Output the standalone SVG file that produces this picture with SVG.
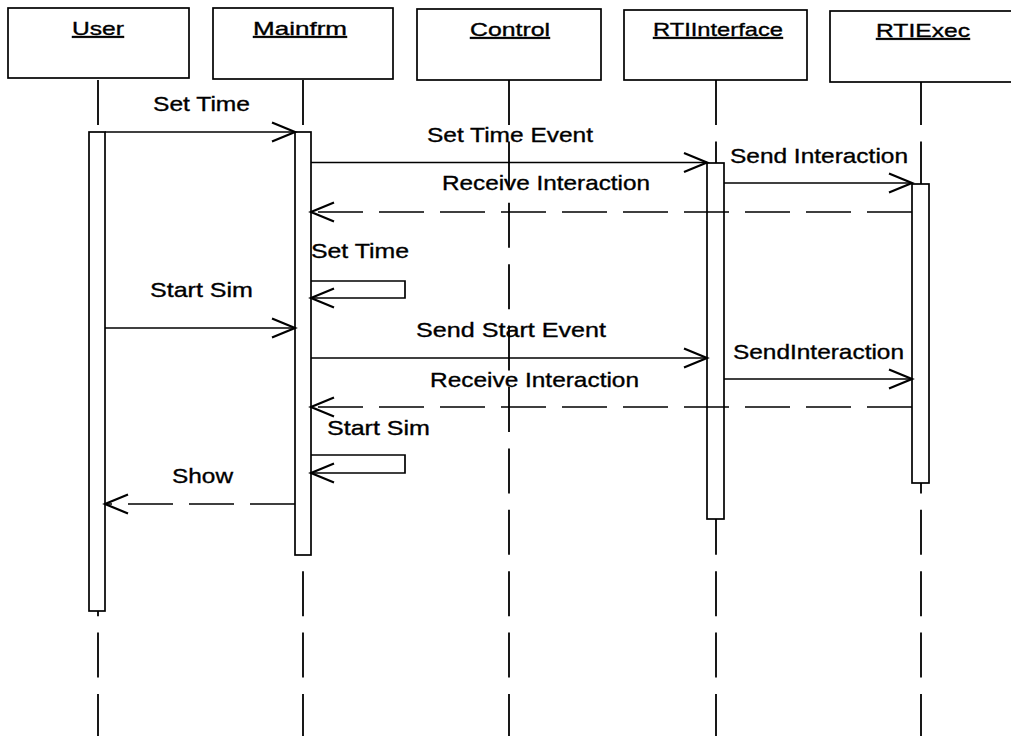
<svg xmlns="http://www.w3.org/2000/svg" width="1011" height="736" viewBox="0 0 1011 736">
<style>
  .box { fill: #fff; stroke: #000; stroke-width: 1.7; }
  .act { fill: #fff; stroke: #000; stroke-width: 1.7; }
  .life { stroke: #000; stroke-width: 1.8; stroke-dasharray: 45 16.4; fill: none; }
  .msg { stroke: #000; stroke-width: 1.7; fill: none; marker-end: url(#open); }
  .ret { stroke: #000; stroke-width: 1.7; fill: none; stroke-dasharray: 45 16; marker-end: url(#open); }
  .hdr { font-family: "Liberation Sans", Arial, sans-serif; font-size: 19px; text-decoration: underline; fill: #000; stroke: #000; stroke-width: 0.35; }
  .lbl { font-family: "Liberation Sans", Arial, sans-serif; font-size: 21px; fill: #000; stroke: #000; stroke-width: 0.35; }
</style>
<defs>
  <marker id="open" markerUnits="userSpaceOnUse" markerWidth="30" markerHeight="24" viewBox="-26 -12 30 24" refX="0" refY="0" orient="auto">
    <path d="M-23,-9.5 L0,0 L-23,9.5" fill="none" stroke="#000" stroke-width="2.2"/>
  </marker>
</defs>
<rect width="1011" height="736" fill="#fff"/>

<g id="lifelines">
  <line class="life" x1="98" y1="80" x2="98" y2="736"/>
  <line class="life" x1="303" y1="80" x2="303" y2="736"/>
  <line class="life" x1="509" y1="80" x2="509" y2="736"/>
  <line class="life" x1="716" y1="80" x2="716" y2="736"/>
  <line class="life" x1="921" y1="80" x2="921" y2="736"/>
</g>

<g id="node-user">
  <rect class="box" x="8" y="8" width="181" height="70"/>
  <text class="hdr" x="72" y="35" textLength="52" lengthAdjust="spacingAndGlyphs">User</text>
  <rect class="act" x="89" y="132" width="16" height="479"/>
</g>
<g id="node-mainfrm">
  <rect class="box" x="213" y="8" width="180" height="71"/>
  <text class="hdr" x="253" y="35" textLength="94" lengthAdjust="spacingAndGlyphs">Mainfrm</text>
  <rect class="act" x="295" y="132" width="16" height="423"/>
</g>
<g id="node-control">
  <rect class="box" x="417" y="9" width="184" height="71"/>
  <text class="hdr" x="470" y="36" textLength="80" lengthAdjust="spacingAndGlyphs">Control</text>
</g>
<g id="node-rtiinterface">
  <rect class="box" x="624" y="10" width="183" height="70"/>
  <text class="hdr" x="653" y="36" textLength="130" lengthAdjust="spacingAndGlyphs">RTIInterface</text>
  <rect class="act" x="707" y="163" width="17" height="356"/>
</g>
<g id="node-rtiexec">
  <rect class="box" x="830" y="11" width="185" height="71"/>
  <text class="hdr" x="876" y="37" textLength="94" lengthAdjust="spacingAndGlyphs">RTIExec</text>
  <rect class="act" x="912" y="184" width="17" height="299"/>
</g>

<g id="connectors">
  <line class="msg" x1="105" y1="132" x2="295" y2="132"/>
  <line class="msg" x1="311" y1="162.5" x2="707" y2="162.5"/>
  <line class="msg" x1="724" y1="183" x2="912" y2="183"/>
  <line class="ret" x1="912" y1="212" x2="311" y2="212"/>
  <polyline class="msg" points="311,281 405,281 405,298 311,298"/>
  <line class="msg" x1="105" y1="328" x2="295" y2="328"/>
  <line class="msg" x1="311" y1="358" x2="707" y2="358"/>
  <line class="msg" x1="724" y1="379" x2="912" y2="379"/>
  <line class="ret" x1="912" y1="407" x2="311" y2="407"/>
  <polyline class="msg" points="311,455 405,455 405,473 311,473"/>
  <line class="ret" x1="295" y1="504" x2="105" y2="504"/>
</g>

<g id="labels">
  <text class="lbl" x="153" y="111" textLength="97" lengthAdjust="spacingAndGlyphs">Set Time</text>
  <text class="lbl" x="427" y="142" textLength="166" lengthAdjust="spacingAndGlyphs">Set Time Event</text>
  <text class="lbl" x="730" y="163" textLength="178" lengthAdjust="spacingAndGlyphs">Send Interaction</text>
  <text class="lbl" x="442" y="190" textLength="208" lengthAdjust="spacingAndGlyphs">Receive Interaction</text>
  <text class="lbl" x="311" y="258" textLength="98" lengthAdjust="spacingAndGlyphs">Set Time</text>
  <text class="lbl" x="150" y="297" textLength="103" lengthAdjust="spacingAndGlyphs">Start Sim</text>
  <text class="lbl" x="416" y="337" textLength="190" lengthAdjust="spacingAndGlyphs">Send Start Event</text>
  <text class="lbl" x="733" y="359" textLength="171" lengthAdjust="spacingAndGlyphs">SendInteraction</text>
  <text class="lbl" x="430" y="387" textLength="209" lengthAdjust="spacingAndGlyphs">Receive Interaction</text>
  <text class="lbl" x="327" y="435" textLength="103" lengthAdjust="spacingAndGlyphs">Start Sim</text>
  <text class="lbl" x="172" y="483" textLength="61" lengthAdjust="spacingAndGlyphs">Show</text>
</g>
</svg>
